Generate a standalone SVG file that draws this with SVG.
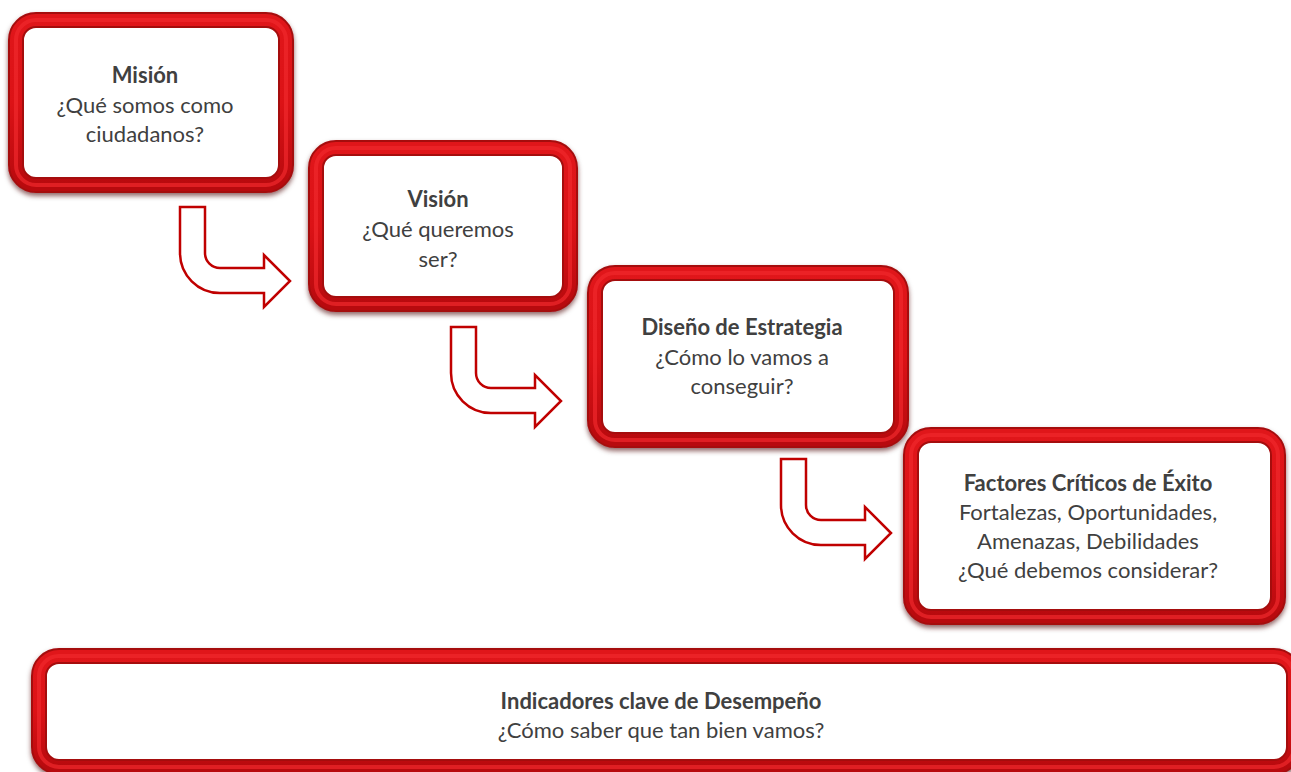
<svg xmlns="http://www.w3.org/2000/svg" width="1291" height="772" viewBox="0 0 1291 772">
<defs>
<filter id="sh" x="-10%" y="-10%" width="120%" height="130%">
<feDropShadow dx="0" dy="3" stdDeviation="2.5" flood-color="#4a0000" flood-opacity="0.6"/>
</filter>
<linearGradient id="tube" x1="0" y1="0" x2="0" y2="1">
<stop offset="0" stop-color="#e0161a"/>
<stop offset="0.5" stop-color="#dc1216"/>
<stop offset="1" stop-color="#b80a0e"/>
</linearGradient>
</defs>
<style>
.b0{fill:#fff;stroke:#a50a0c;stroke-width:16}
.b1{fill:none;stroke:url(#tube);stroke-width:12}
.b2{fill:none;stroke:#f0282c;stroke-width:4;opacity:0.7}
.arr{fill:#fff;stroke:#c00000;stroke-width:2.5;stroke-linejoin:miter}
text{font-family:Lato,"Open Sans","Liberation Sans",sans-serif;font-size:22px;fill:#404040;text-anchor:middle}
.t{font-weight:bold}
</style>
<rect width="1291" height="772" fill="#fff"/>
<g id="connectors">
<path class="arr" d="M180,207 H205 V253 A15,15 0 0 0 220,268 H264 V255 L290,281 L264,307 V293 H220 A40,40 0 0 1 180,253 Z"/>
<path class="arr" transform="translate(271,120)" d="M180,207 H205 V253 A15,15 0 0 0 220,268 H264 V255 L290,281 L264,307 V293 H220 A40,40 0 0 1 180,253 Z"/>
<path class="arr" transform="translate(601,252)" d="M180,207 H205 V253 A15,15 0 0 0 220,268 H264 V255 L290,281 L264,307 V293 H220 A40,40 0 0 1 180,253 Z"/>
</g>
<g id="mision">
<g filter="url(#sh)"><rect class="b0" x="16" y="20" width="270" height="165" rx="20"/></g>
<rect class="b1" x="16" y="20" width="270" height="165" rx="20"/>
<rect class="b2" x="16" y="20" width="270" height="165" rx="20"/>
<text x="145" y="83" class="t">Misión</text>
<text x="145" y="112.5">¿Qué somos como</text>
<text x="145" y="142">ciudadanos?</text>
</g>
<g id="vision">
<g filter="url(#sh)"><rect class="b0" x="316" y="148" width="254" height="156" rx="20"/></g>
<rect class="b1" x="316" y="148" width="254" height="156" rx="20"/>
<rect class="b2" x="316" y="148" width="254" height="156" rx="20"/>
<text x="438" y="207" class="t">Visión</text>
<text x="438" y="237">¿Qué queremos</text>
<text x="438" y="267">ser?</text>
</g>
<g id="estrategia">
<g filter="url(#sh)"><rect class="b0" x="595" y="273" width="306" height="167" rx="20"/></g>
<rect class="b1" x="595" y="273" width="306" height="167" rx="20"/>
<rect class="b2" x="595" y="273" width="306" height="167" rx="20"/>
<text x="742" y="335" class="t">Diseño de Estrategia</text>
<text x="742" y="364.5">¿Cómo lo vamos a</text>
<text x="742" y="394">conseguir?</text>
</g>
<g id="factores">
<g filter="url(#sh)"><rect class="b0" x="911" y="435" width="367" height="182" rx="20"/></g>
<rect class="b1" x="911" y="435" width="367" height="182" rx="20"/>
<rect class="b2" x="911" y="435" width="367" height="182" rx="20"/>
<text x="1088" y="491" class="t">Factores Críticos de Éxito</text>
<text x="1088" y="520">Fortalezas, Oportunidades,</text>
<text x="1088" y="549">Amenazas, Debilidades</text>
<text x="1088" y="578">¿Qué debemos considerar?</text>
</g>
<g id="indicadores">
<g filter="url(#sh)"><rect class="b0" x="39" y="656" width="1255" height="111" rx="20"/></g>
<rect class="b1" x="39" y="656" width="1255" height="111" rx="20"/>
<rect class="b2" x="39" y="656" width="1255" height="111" rx="20"/>
<text x="661" y="709" class="t">Indicadores clave de Desempeño</text>
<text x="661" y="738">¿Cómo saber que tan bien vamos?</text>
</g>
</svg>
